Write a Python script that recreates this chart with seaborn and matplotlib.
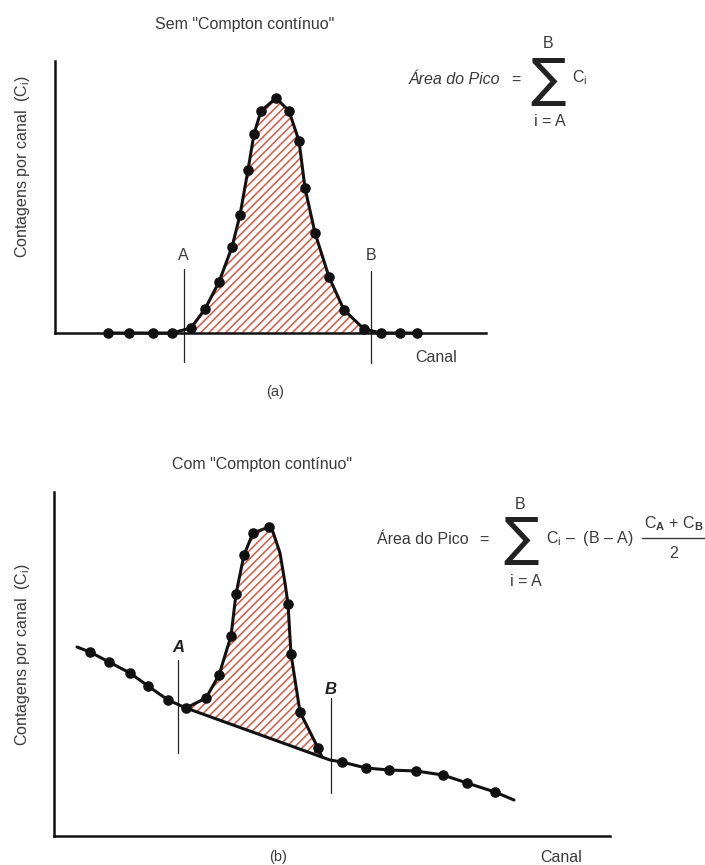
import numpy as np
import pandas as pd
import matplotlib
matplotlib.use("Agg")
import matplotlib.pyplot as plt
import seaborn as sns

# ---------------- data (channel, counts) ----------------
# panel (a): without Compton continuum
a_left_x = [5.3, 7.4, 9.8, 11.7]
a_left_y = [0.0, 0.0, 0.0, 0.0]
a_peak_x = [13.6, 15.0, 16.4, 17.7, 18.5, 19.3, 19.9, 20.6, 22.1, 23.4, 24.4, 25.0, 26.0, 27.4, 28.9, 30.9]
a_peak_y = [0.5, 2.4, 5.1, 8.6, 11.8, 16.3, 19.9, 22.2, 23.5, 22.2, 19.2, 14.5, 10.0, 5.6, 2.3, 0.4]
a_right_x = [32.6, 34.5, 36.2]
a_right_y = [0.0, 0.0, 0.0]
a_A, a_B = 12.85, 31.6

# panel (b): with Compton continuum
b_bg_x = [2.3, 3.6, 5.5, 7.6, 9.4, 11.4, 13.2, 27.6, 28.8, 31.2, 33.5, 36.2, 38.9, 41.3, 44.1, 46.0]
b_bg_y = [18.9, 18.4, 17.4, 16.3, 15.0, 13.6, 12.8, 7.6, 7.4, 6.8, 6.6, 6.5, 6.1, 5.3, 4.4, 3.6]
b_bg_dot = [0, 1, 1, 1, 1, 1, 1, 0, 1, 1, 1, 1, 1, 1, 1, 0]
b_peak_x = [13.2, 15.2, 16.5, 17.7, 18.2, 19.0, 19.9, 21.5, 21.9, 22.6, 23.1, 23.4, 23.7, 24.6, 26.4, 26.8]
b_peak_y = [12.8, 13.8, 16.1, 20.0, 24.2, 28.1, 30.3, 30.9, 30.4, 28.3, 25.3, 23.2, 18.2, 12.4, 8.8, 7.9]
b_peak_dot = [0, 1, 1, 1, 1, 1, 1, 1, 0, 0, 0, 1, 1, 1, 1, 0]
b_A, b_B = 12.4, 27.7

# ---------------- style ----------------
sns.set_style("white")
plt.rcParams["font.family"] = ["Liberation Sans", "DejaVu Sans"]
plt.rcParams["mathtext.fontset"] = "custom"
plt.rcParams["mathtext.rm"] = "Liberation Sans"
plt.rcParams["mathtext.it"] = "Liberation Sans:italic"
plt.rcParams["mathtext.bf"] = "Liberation Sans:bold"
plt.rcParams["hatch.linewidth"] = 1.1

W, H = 705, 865
fig = plt.figure(figsize=(W / 100, H / 100), dpi=100)
fig.patch.set_facecolor("white")


def fx(px):
    return px / W


def fy(py):
    return 1 - py / H


TXT = "#3a3a3a"
RED = "#d9573f"
FS = 11.5
LW = 2.2
MS = 58

ax_a = fig.add_axes([fx(55), fy(333), (486 - 55) / W, (333 - 61) / H])
ax_b = fig.add_axes([fx(54), fy(836), (610 - 54) / W, (836 - 492) / H])

for ax in (ax_a, ax_b):
    ax.set_facecolor("white")
    for s in ("top", "right"):
        ax.spines[s].set_visible(False)
    for s in ("left", "bottom"):
        ax.spines[s].set_linewidth(1.8)
        ax.spines[s].set_color("#111111")

ax_a.set_xlim(0, 43.1)
ax_a.set_ylim(0, 27.2)
ax_b.set_xlim(0, 55.6)
ax_b.set_ylim(0, 34.4)

# ---------------- panel (a) ----------------
fill_x = [a_A + 0.2] + a_peak_x + [a_B - 0.3]
fill_y = [0.0] + a_peak_y + [0.0]
ax_a.fill(fill_x, fill_y, facecolor="none", edgecolor=RED, hatch="////", linewidth=0, zorder=1)

df_a = pd.DataFrame({
    "canal": a_left_x + a_peak_x + a_right_x,
    "cont": a_left_y + a_peak_y + a_right_y,
})
sns.lineplot(data=df_a, x="canal", y="cont", sort=False, estimator=None,
             color="#111111", linewidth=LW, ax=ax_a, zorder=3)
for ln in ax_a.lines:
    ln.set_clip_on(False)
sns.scatterplot(data=df_a, x="canal", y="cont", s=MS, color="#111111",
                edgecolor="#111111", linewidth=0, ax=ax_a, zorder=4, clip_on=False)

for xv, top, bot, lab in ((a_A, 6.4, -2.9, "A"), (a_B, 6.2, -3.0, "B")):
    ax_a.plot([xv, xv], [bot, top], color="#222222", lw=0.9, clip_on=False, zorder=2)
    ax_a.text(xv, 7.8, lab, ha="center", va="center", fontsize=FS, color=TXT)

# ---------------- panel (b) ----------------
ax_b.fill(b_peak_x, b_peak_y, facecolor="none", edgecolor=RED, hatch="////", linewidth=0, zorder=1)

df_bg = pd.DataFrame({"canal": b_bg_x, "cont": b_bg_y, "marca": b_bg_dot})
df_pk = pd.DataFrame({"canal": b_peak_x, "cont": b_peak_y, "marca": b_peak_dot})
sns.lineplot(data=df_bg, x="canal", y="cont", sort=False, estimator=None,
             color="#111111", linewidth=LW, ax=ax_b, zorder=3)
sns.lineplot(data=df_pk, x="canal", y="cont", sort=False, estimator=None,
             color="#111111", linewidth=LW, ax=ax_b, zorder=3)
dots = pd.concat([df_bg[df_bg["marca"] == 1], df_pk[df_pk["marca"] == 1]])
sns.scatterplot(data=dots, x="canal", y="cont", s=MS, color="#111111",
                edgecolor="#111111", linewidth=0, ax=ax_b, zorder=4, clip_on=False)

for xv, top, bot, lab, ly in ((b_A, 17.6, 8.3, "A", 18.8), (b_B, 13.8, 4.3, "B", 14.7)):
    ax_b.plot([xv, xv], [bot, top], color="#222222", lw=0.9, clip_on=False, zorder=2)
    ax_b.text(xv, ly, lab, ha="center", va="center", fontsize=12, color="#222222",
              fontstyle="italic", fontweight="bold")

for ax in (ax_a, ax_b):
    ax.set_xticks([])
    ax.set_yticks([])
    ax.set_xlabel("")
    ax.set_ylabel("")

# ---------------- texts ----------------
fig.text(fx(245), fy(25), 'Sem "Compton contínuo"', ha="center", va="center", fontsize=FS, color=TXT)
fig.text(fx(262), fy(465), 'Com "Compton contínuo"', ha="center", va="center", fontsize=FS, color=TXT)
for yc in (167, 655):
    fig.text(fx(23), fy(yc), r"Contagens por canal  (C$_\mathregular{i}$)", rotation=90,
             ha="center", va="center", fontsize=FS, color=TXT)
fig.text(fx(436), fy(358), "Canal", ha="center", va="center", fontsize=FS, color=TXT)
fig.text(fx(561), fy(857), "Canal", ha="center", va="center", fontsize=FS, color=TXT)
fig.text(fx(275), fy(392), "(a)", ha="center", va="center", fontsize=FS - 1, color=TXT)
fig.text(fx(278), fy(857), "(b)", ha="center", va="center", fontsize=FS - 1, color=TXT)

# formula (a)
fig.text(fx(454), fy(80), "Área do Pico", ha="center", va="center", fontsize=FS,
         color=TXT, fontstyle="italic")
fig.text(fx(516), fy(80), "=", ha="center", va="center", fontsize=FS, color=TXT)
fig.text(fx(548), fy(81), "∑", ha="center", va="center", fontsize=38, color="#222222",
         family="DejaVu Sans")
fig.text(fx(548), fy(44), "B", ha="center", va="center", fontsize=FS, color=TXT)
fig.text(fx(550), fy(121), "i = A", ha="center", va="center", fontsize=FS, color=TXT)
fig.text(fx(572), fy(78), r"C$_\mathregular{i}$", ha="left", va="center", fontsize=FS, color=TXT)

# formula (b)
fig.text(fx(423), fy(540), "Área do Pico", ha="center", va="center", fontsize=FS, color=TXT)
fig.text(fx(484), fy(540), "=", ha="center", va="center", fontsize=FS, color=TXT)
fig.text(fx(521), fy(540), "∑", ha="center", va="center", fontsize=38, color="#222222",
         family="DejaVu Sans")
fig.text(fx(520), fy(504), "B", ha="center", va="center", fontsize=FS, color=TXT)
fig.text(fx(526), fy(581), "i = A", ha="center", va="center", fontsize=FS, color=TXT)
fig.text(fx(546), fy(539), r"C$_\mathregular{i}$ –  (B – A)", ha="left", va="center",
         fontsize=FS, color=TXT)
fig.text(fx(674), fy(524), r"C$_\mathbf{A}$ + C$_\mathbf{B}$", ha="center", va="center",
         fontsize=FS, color=TXT)
fig.add_artist(plt.Line2D([fx(642), fx(707)], [fy(538), fy(538)], color=TXT, lw=1.0))
fig.text(fx(674), fy(553), "2", ha="center", va="center", fontsize=FS, color=TXT)

fig.savefig("out.png", dpi=100, facecolor="white")
